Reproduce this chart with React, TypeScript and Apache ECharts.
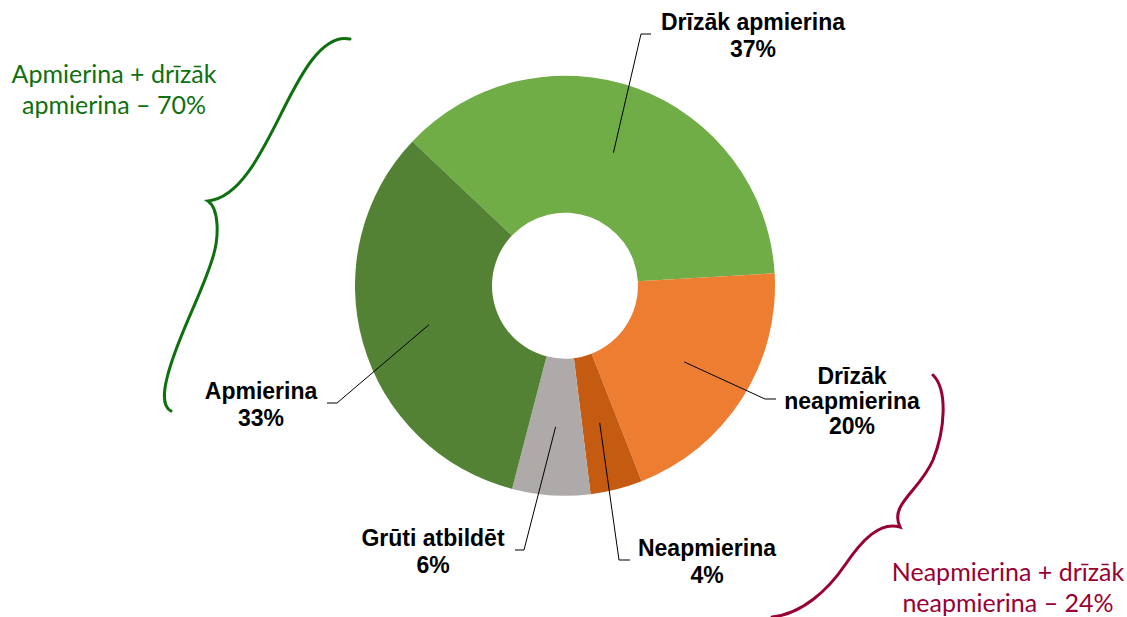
import React, { useEffect, useRef } from "react";
import * as echarts from "echarts";

// ---- data ----
const categories = [
  "Drīzāk apmierina",
  "Drīzāk neapmierina",
  "Neapmierina",
  "Grūti atbildēt",
  "Apmierina",
];
const shares = [37, 20, 4, 6, 33];
const colors = ["#70AD47", "#ED7D31", "#C55A11", "#AEAAAA", "#548235"];
const groupTexts = [
  "Apmierina + drīzāk\napmierina – 70%",
  "Neapmierina + drīzāk\nneapmierina – 24%",
];

// ---- layout ----
const CX = 565;
const CY = 285.7;
const R_IN = 73;
const R_OUT = 210;
const START = 136.6;
const labelDisplay: Record<string, string> = {
  "Drīzāk neapmierina": "Drīzāk\nneapmierina",
};
// label anchor (center) and leader line bend / end points
const labelPos = [
  { x: 753, y: 35, lh: 27, bend: [641, 34], end: [651, 34] },
  { x: 852, y: 401, lh: 25, bend: [765, 399], end: [776, 399] },
  { x: 707, y: 561, lh: 27, bend: [619, 560], end: [630, 560] },
  { x: 433, y: 551, lh: 27, bend: [524, 550], end: [515, 550] },
  { x: 261, y: 404, lh: 27, bend: [337, 403], end: [327, 403] },
];

const greenBrace =
  "M350,39 C322,33 300,76 283,110 C262,152 240,198 208,201 C218,208 221,235 211,263 C199,300 176,340 167,378 C162,398 165,408 171,411";
const redBrace =
  "M933,375 C948,390 945,430 933,460 C919,492 889,504 900,527 C880,521 862,540 845,565 C828,590 802,614 772,617";

echarts.graphic.registerShape("greenBrace", echarts.graphic.extendPath(greenBrace, {}));
echarts.graphic.registerShape("redBrace", echarts.graphic.extendPath(redBrace, {}));

function midPoint(i: number) {
  const total = shares.reduce((a, b) => a + b, 0);
  let cum = 0;
  for (let k = 0; k < i; k++) cum += shares[k];
  const ang = ((START - (360 * (cum + shares[i] / 2)) / total) * Math.PI) / 180;
  const r = (R_IN + R_OUT) / 2;
  return [CX + r * Math.cos(ang), CY - r * Math.sin(ang)];
}

export default function App() {
  const ref = useRef<HTMLDivElement>(null);
  useEffect(() => {
    if (!ref.current) return;
    const chart = echarts.init(ref.current, null, { renderer: "svg" });
    const base = {
      type: "pie",
      center: [CX, CY],
      radius: [R_IN, R_OUT],
      startAngle: START,
      clockwise: true,
      avoidLabelOverlap: false,
      emphasis: { disabled: true },
    };
    chart.setOption({
      animation: false,
      backgroundColor: "#ffffff",
      series: [
        {
          ...base,
          z: 2,
          itemStyle: { borderWidth: 0 },
          label: { show: false },
          labelLine: { show: false },
          data: categories.map((name, i) => ({
            name,
            value: shares[i],
            itemStyle: { color: colors[i] },
          })),
        },
        {
          ...base,
          z: 5,
          silent: true,
          itemStyle: { color: "rgba(0,0,0,0)", borderWidth: 0 },
          data: categories.map((name, i) => ({
            name,
            value: shares[i],
            label: { lineHeight: labelPos[i].lh },
          })),
          label: {
            show: true,
            position: "outside",
            color: "#000",
            fontFamily: "Liberation Sans, Arial, sans-serif",
            fontWeight: "bold",
            fontSize: 23,
            lineHeight: 27,
            formatter: (p: any) => `${labelDisplay[p.name] || p.name}\n${p.value}%`,
          },
          labelLine: {
            show: true,
            showAbove: true,
            lineStyle: { color: "#000", width: 1 },
          },
          labelLayout: (p: any) => {
            const i = p.dataIndex;
            const lp = labelPos[i];
            return {
              x: lp.x,
              y: lp.y,
              align: "center",
              verticalAlign: "middle",
              labelLinePoints: [midPoint(i), lp.bend, lp.end],
            };
          },
        },
      ],
      graphic: [
        {
          type: "greenBrace",
          x: 0,
          y: 0,
          style: { stroke: "#0E700E", lineWidth: 3, fill: null, lineCap: "round" },
        },
        {
          type: "redBrace",
          x: 0,
          y: 0,
          style: { stroke: "#990033", lineWidth: 3, fill: null, lineCap: "round" },
        },
        {
          type: "text",
          x: 114,
          y: 88,
          style: {
            text: groupTexts[0],
            fill: "#0E700E",
            fontFamily: "Lato, sans-serif",
            fontSize: 25,
            lineHeight: 31,
            align: "center",
            verticalAlign: "middle",
          },
        },
        {
          type: "text",
          x: 1008,
          y: 586,
          style: {
            text: groupTexts[1],
            fill: "#990033",
            fontFamily: "Lato, sans-serif",
            fontSize: 25,
            lineHeight: 31,
            align: "center",
            verticalAlign: "middle",
          },
        },
      ],
    });
    return () => chart.dispose();
  }, []);
  return (
    <div
      ref={ref}
      style={{ position: "absolute", left: 0, top: 0, width: 1127, height: 617 }}
    />
  );
}
